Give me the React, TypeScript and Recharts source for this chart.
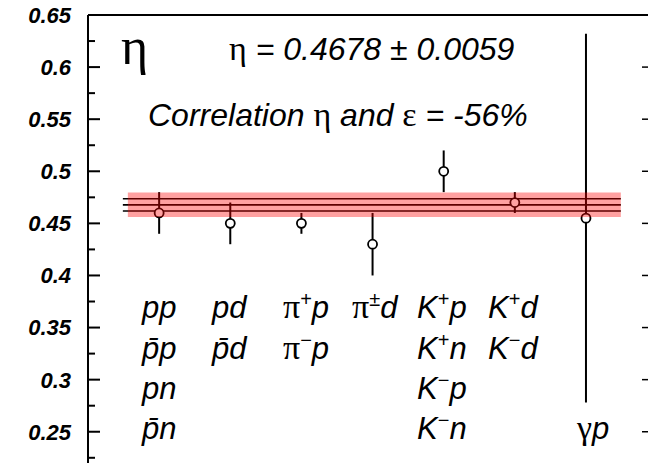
import React from "react";
import {
  ComposedChart,
  Scatter,
  ErrorBar,
  XAxis,
  YAxis,
  ReferenceLine,
  ReferenceArea,
} from "recharts";

// measured eta per reaction group, one entry per column
const groupX = [1, 2, 3, 4, 5, 6, 7];
const etaValues = [0.46, 0.45, 0.45, 0.43, 0.5, 0.47, 0.455];
const etaErrors = [0.02, 0.02, 0.01, 0.03, 0.02, 0.01, 0.177];

// global fit
const fitMean = 0.4678;
const fitError = 0.0059;
const correlation = -56;

const majorTicks = [0.25, 0.3, 0.35, 0.4, 0.45, 0.5, 0.55, 0.6, 0.65];
const minorTicks = [0.225, 0.275, 0.325, 0.375, 0.425, 0.475, 0.525, 0.575, 0.625];

// reaction labels under each column, "^" marks a superscript char
const reactionLabels = [
  ["pp", "p\u0304p", "pn", "p\u0304n"],
  ["pd", "p\u0304d"],
  ["π^+p", "π^−p"],
  ["π^±d"],
  ["K^+p", "K^+n", "K^−p", "K^−n"],
  ["K^+d", "K^−d"],
  ["", "", "", "γp"],
];
const labelLeft = [142, 212, 283, 352, 417, 488, 577];
const labelBaselines = [318, 359, 399, 439];

const points = groupX.map((x, i) => ({ x, y: etaValues[i], err: etaErrors[i] }));

const SANS = "'Liberation Sans', Arial, sans-serif";
const SERIF = "'Liberation Serif', 'Times New Roman', serif";

const isMajor = (v: number) => majorTicks.some((t) => Math.abs(t - v) < 1e-9);

function LeftTick(props: any) {
  const { x, y, payload } = props;
  const major = isMajor(payload.value);
  return (
    <g>
      <line x1={x} x2={x + (major ? 12 : 7)} y1={y} y2={y} stroke="#000" strokeWidth={2} />
      {major && (
        <text
          x={x - 17}
          y={y}
          dy="0.36em"
          textAnchor="end"
          fontFamily={SANS}
          fontStyle="italic"
          fontWeight="bold"
          fontSize={22}
          fill="#000"
        >
          {String(payload.value)}
        </text>
      )}
    </g>
  );
}

function RightTick(props: any) {
  const { x, y } = props;
  return <line x1={x - 8} x2={x} y1={y} y2={y} stroke="#000" strokeWidth={1.5} />;
}

function OpenDot(props: any) {
  const { cx, cy } = props;
  return <circle cx={cx} cy={cy} r={4.5} fill="#fff" stroke="#000" strokeWidth={1.8} />;
}

// renders a label like "K^+p": greek letters upright serif, "^x" raised
function ReactionLabel({ text, x, y }: { text: string; x: number; y: number }) {
  const parts: React.ReactNode[] = [];
  let shift = 0;
  const chars = Array.from(text);
  for (let i = 0; i < chars.length; i++) {
    const c = chars[i];
    if (c === "^" && i + 1 < chars.length) {
      parts.push(
        <tspan key={i} dy={-12} fontSize={20} fontStyle="normal">
          {chars[i + 1]}
        </tspan>
      );
      shift = 12;
      i++;
      continue;
    }
    const greek = c === "π" || c === "γ";
    parts.push(
      <tspan
        key={i}
        dy={shift || undefined}
        fontFamily={greek ? SERIF : SANS}
        fontStyle={greek ? "normal" : "italic"}
        fontSize={greek ? 34 : 31}
      >
        {c}
      </tspan>
    );
    shift = 0;
  }
  return (
    <text x={x} y={y} fill="#000" fontFamily={SANS} fontSize={31}>
      {parts}
    </text>
  );
}

export default function App() {
  return (
    <div
      style={{
        position: "absolute",
        left: 0,
        top: 0,
        width: 648,
        height: 463,
        overflow: "hidden",
        background: "#fff",
      }}
    >
      <ComposedChart width={660} height={463} margin={{ top: 15, right: 0, bottom: 0, left: 0 }}>
        <XAxis type="number" dataKey="x" domain={[0, 7.9]} hide />
        <YAxis
          yAxisId="l"
          type="number"
          domain={[0.22, 0.65]}
          ticks={[...minorTicks, ...majorTicks]}
          tick={<LeftTick />}
          tickLine={false}
          tickSize={0}
          tickMargin={0}
          axisLine={{ stroke: "#000", strokeWidth: 2 }}
          width={88}
          interval={0}
          allowDataOverflow
        />
        <YAxis
          yAxisId="r"
          orientation="right"
          type="number"
          domain={[0.22, 0.65]}
          ticks={majorTicks}
          tick={<RightTick />}
          tickLine={false}
          tickSize={0}
          tickMargin={0}
          axisLine={false}
          width={10}
          interval={0}
          allowDataOverflow
        />
        <ReferenceLine yAxisId="l" y={0.65} stroke="#000" strokeWidth={2} />
        <Scatter
          yAxisId="l"
          data={points}
          dataKey="y"
          shape={<OpenDot />}
          isAnimationActive={false}
        >
          <ErrorBar
            dataKey="err"
            direction="y"
            width={0}
            stroke="#000"
            strokeWidth={2}
            isAnimationActive={false}
          />
        </Scatter>
        {[fitMean + fitError, fitMean, fitMean - fitError].map((v) => (
          <ReferenceLine
            key={v}
            yAxisId="l"
            segment={[
              { x: 0.49, y: v },
              { x: 7.49, y: v },
            ]}
            stroke="#000"
            strokeWidth={1.6}
          />
        ))}
        <ReferenceArea
          yAxisId="l"
          x1={0.56}
          x2={7.49}
          y1={fitMean - 2 * fitError}
          y2={fitMean + 2 * fitError}
          fill="#ff0000"
          fillOpacity={0.37}
          stroke="none"
          zIndex={1000}
        />
      </ComposedChart>

      <svg
        width={648}
        height={463}
        style={{ position: "absolute", left: 0, top: 0, pointerEvents: "none" }}
      >
        <text x={121} y={64} fontFamily={SERIF} fontSize={52} fill="#000">
          η
        </text>
        <text x={229} y={60} fontFamily={SANS} fontStyle="italic" fontSize={32} fill="#000">
          <tspan fontFamily={SERIF} fontStyle="normal" fontSize={34}>
            η
          </tspan>
          {` = ${fitMean.toFixed(4)} ± ${fitError.toFixed(4)}`}
        </text>
        <text x={148} y={126} fontFamily={SANS} fontStyle="italic" fontSize={32} fill="#000">
          {"Correlation "}
          <tspan fontFamily={SERIF} fontStyle="normal" fontSize={34}>
            η
          </tspan>
          {" and "}
          <tspan fontFamily={SERIF} fontStyle="normal" fontSize={34}>
            ε
          </tspan>
          {` = ${correlation}%`}
        </text>
        {reactionLabels.map((col, ci) =>
          col.map((label, ri) =>
            label ? (
              <ReactionLabel
                key={`${ci}-${ri}`}
                text={label}
                x={labelLeft[ci]}
                y={labelBaselines[ri]}
              />
            ) : null
          )
        )}
      </svg>
    </div>
  );
}
